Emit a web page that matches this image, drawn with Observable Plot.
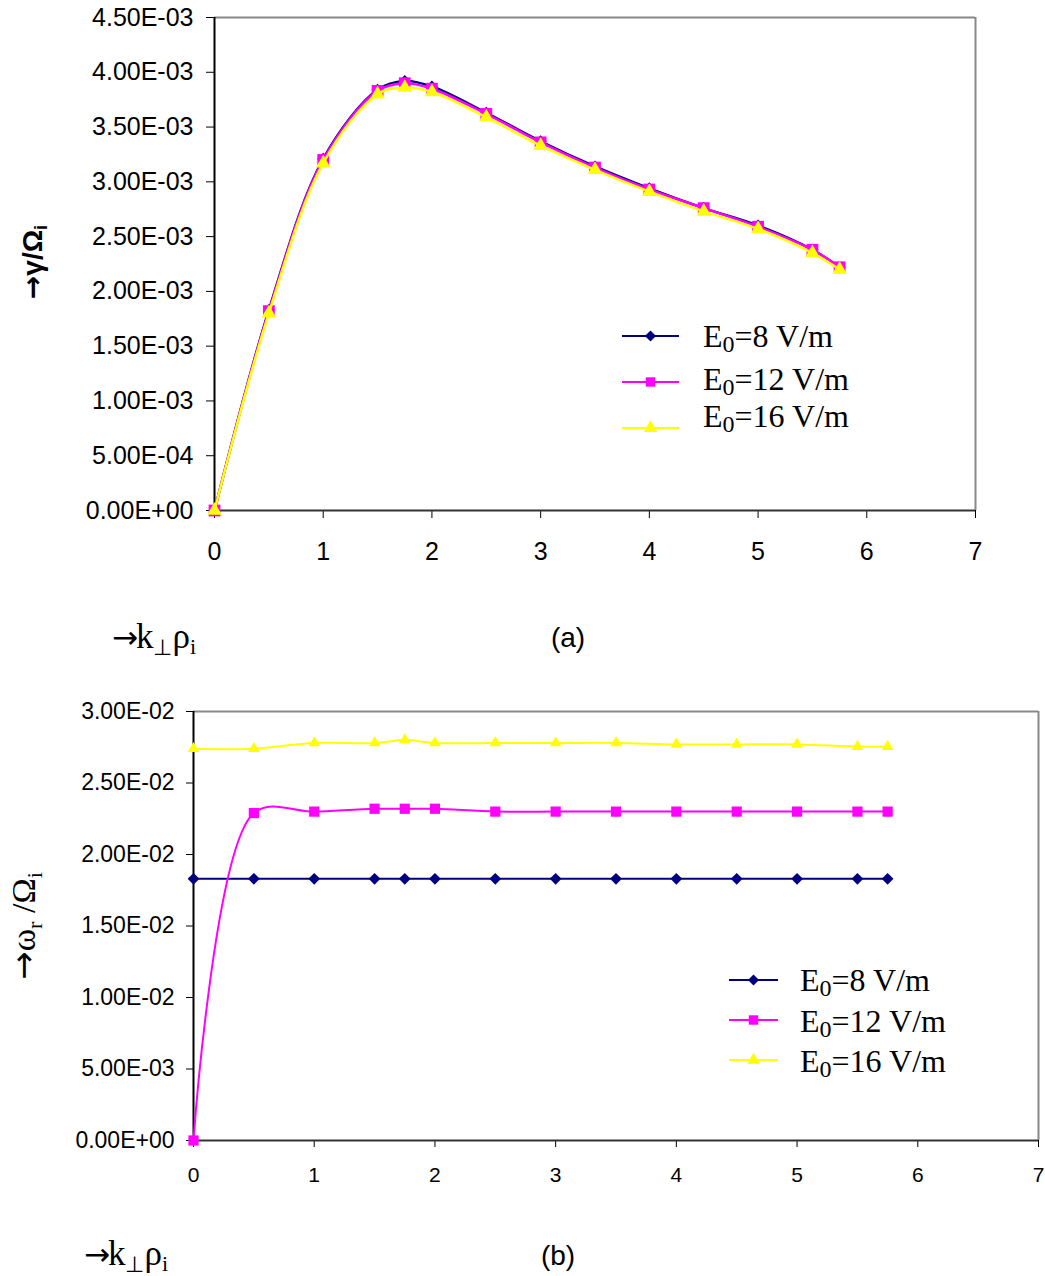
<!DOCTYPE html>
<html><head><meta charset="utf-8">
<script src="https://cdn.jsdelivr.net/npm/d3@7"></script>
<script src="https://cdn.jsdelivr.net/npm/@observablehq/plot@0.6"></script>
<style>
body{margin:0;background:#fff;}
#wrap{position:relative;width:1045px;height:1276px;overflow:hidden;background:#fff;}
#wrap > svg{position:absolute;left:0;}
</style></head><body><div id="wrap"></div>
<script>
// ---------- data ----------
const kRho = [0, 0.5, 1, 1.5, 1.75, 2, 2.5, 3, 3.5, 4, 4.5, 5, 5.5, 5.75];
const seriesNames = ["E0=8 V/m", "E0=12 V/m", "E0=16 V/m"];
const seriesColors = ["#000080", "#FF00FF", "#FFFF00"];
const seriesSymbols = ["diamond2", "square2", "triangle2"];

// (a) growth rate gamma / Omega_i
const gammaE8  = [0, 1.83e-3, 3.21e-3, 3.84e-3, 3.92e-3, 3.87e-3, 3.63e-3, 3.37e-3, 3.14e-3, 2.94e-3, 2.76e-3, 2.60e-3, 2.38e-3, 2.22e-3];
const gammaE12 = [0, 1.82e-3, 3.20e-3, 3.83e-3, 3.90e-3, 3.85e-3, 3.62e-3, 3.36e-3, 3.13e-3, 2.93e-3, 2.76e-3, 2.59e-3, 2.38e-3, 2.22e-3];
const gammaE16 = [0, 1.80e-3, 3.17e-3, 3.80e-3, 3.86e-3, 3.82e-3, 3.59e-3, 3.33e-3, 3.11e-3, 2.91e-3, 2.73e-3, 2.57e-3, 2.35e-3, 2.20e-3];

// (b) real frequency omega_r / Omega_i
const omegaE8  = [0.0183, 0.0183, 0.0183, 0.0183, 0.0183, 0.0183, 0.0183, 0.0183, 0.0183, 0.0183, 0.0183, 0.0183, 0.0183, 0.0183];
const omegaE12 = [0, 0.0229, 0.0230, 0.0232, 0.0232, 0.0232, 0.0230, 0.0230, 0.0230, 0.0230, 0.0230, 0.0230, 0.0230, 0.0230];
const omegaE16 = [0.0274, 0.0274, 0.0278, 0.0278, 0.0280, 0.0278, 0.0278, 0.0278, 0.0278, 0.0277, 0.0277, 0.0277, 0.02755, 0.02755];

const xTicks = [0, 1, 2, 3, 4, 5, 6, 7];
const yTicksA = [0, 0.0005, 0.001, 0.0015, 0.002, 0.0025, 0.003, 0.0035, 0.004, 0.0045];
const yTicksB = [0, 0.005, 0.01, 0.015, 0.02, 0.025, 0.03];

// ---------- helpers ----------
function sci(v) {
  if (Math.abs(v) < 1e-12) return "0.00E+00";
  let [m, e] = v.toExponential(2).split("e");
  const sign = e[0] === "-" ? "-" : "+";
  e = e.replace(/[+-]/, "").padStart(2, "0");
  return m + "E" + sign + e;
}
function rows(values) { return kRho.map((k, i) => ({k, v: values[i]})); }

function makeChart(cfg) {
  const marks = [
    Plot.ruleY([cfg.yMax], {stroke: "#888888", strokeWidth: 2}),
    Plot.ruleX([7], {stroke: "#888888", strokeWidth: 2}),
    Plot.ruleX([0], {stroke: "#000", strokeWidth: 2}),
    Plot.ruleY([0], {stroke: "#333", strokeWidth: 2})
  ];
  cfg.series.forEach((vals, i) => {
    const d = rows(vals);
    marks.push(Plot.line(d, {x: "k", y: "v", stroke: seriesColors[i], strokeWidth: cfg.sw, curve: "catmull-rom"}));
    marks.push(Plot.dot(d, {x: "k", y: "v", symbol: () => seriesSymbols[i], fill: seriesColors[i], stroke: "none", r: cfg.r[i]}));
  });
  const svg = Plot.plot({
    width: 1045, height: cfg.height,
    marginLeft: cfg.ml, marginRight: cfg.mr, marginTop: cfg.mt, marginBottom: cfg.mb,
    style: {fontFamily: "'Liberation Sans', Arial, sans-serif", fontSize: cfg.fs + "px", color: "#000", background: "transparent", overflow: "visible"},
    x: {domain: [0, 7], ticks: xTicks, tickFormat: d => String(d), tickSize: cfg.ts, tickPadding: cfg.xpad, label: null},
    y: {domain: [0, cfg.yMax], ticks: cfg.yTicks, tickFormat: sci, tickSize: cfg.ts, tickPadding: cfg.ypad, label: null},
    symbol: {domain: seriesSymbols, range: seriesSymbols},
    marks
  });
  if (cfg.xfs) {
    d3.select(svg).selectAll('[aria-label^="x-axis"] text').attr("font-size", cfg.xfs);
  }
  return svg;
}

const wrap = document.getElementById("wrap");

const chartA = makeChart({
  height: 580, ml: 214, mr: 70, mt: 17, mb: 70, fs: 25, ts: 8, xpad: 24, ypad: 13,
  yMax: 0.0045, yTicks: yTicksA, sw: 2.5, r: [5.5, 7.5, 7],
  series: [gammaE8, gammaE12, gammaE16]
});
chartA.style.top = "0px";
wrap.appendChild(chartA);

const chartB = makeChart({
  height: 500, ml: 193, mr: 7, mt: 21, mb: 50, fs: 23, xfs: 21, ts: 7, xpad: 20, ypad: 12,
  yMax: 0.03, yTicks: yTicksB, sw: 2, r: [5.3, 6.5, 5.6],
  series: [omegaE8, omegaE12, omegaE16]
});
chartB.style.top = "690px";
wrap.appendChild(chartB);

// ---------- overlay: titles, panel labels, legends ----------
const ov = d3.select(wrap).append("svg")
  .attr("width", 1045).attr("height", 1276)
  .style("top", "0px").style("pointer-events", "none");

const serif = "'Liberation Serif', 'Times New Roman', serif";
const sans = "'Liberation Sans', Arial, sans-serif";
const arrowFont = "'DejaVu Sans', sans-serif";

// y title (a)
const ta = ov.append("text").attr("transform", "translate(42,262) rotate(-90)")
  .attr("text-anchor", "middle").attr("font-family", sans).attr("font-weight", "bold").attr("font-size", 28);
ta.append("tspan").attr("font-family", arrowFont).attr("font-size", 28).text("→");
ta.append("tspan").text("γ/Ω");
ta.append("tspan").attr("font-size", 18).attr("dy", 5).text("i");

// y title (b)
const tb = ov.append("text").attr("transform", "translate(35,926) rotate(-90)")
  .attr("text-anchor", "middle").attr("font-family", serif).attr("font-size", 34);
tb.append("tspan").attr("font-family", arrowFont).attr("font-size", 34).text("→");
tb.append("tspan").text("ω");
tb.append("tspan").attr("font-size", 22).attr("dy", 7).text("r");
tb.append("tspan").attr("dy", -7).text(" /Ω");
tb.append("tspan").attr("font-size", 22).attr("dy", 7).text("i");

// x titles
function xTitle(x, y) {
  const t = ov.append("text").attr("x", x).attr("y", y).attr("font-family", serif).attr("font-size", 35);
  t.append("tspan").attr("font-family", arrowFont).attr("font-size", 31).text("→");
  t.append("tspan").attr("dx", -2).text("k");
  t.append("tspan").attr("font-size", 22).attr("dy", 7).text("⊥");
  t.append("tspan").attr("dy", -7).text("ρ");
  t.append("tspan").attr("font-size", 22).attr("dy", 6).text("i");
}
xTitle(112, 648);
xTitle(84, 1265);

// panel labels
ov.append("text").attr("x", 568).attr("y", 647).attr("text-anchor", "middle")
  .attr("font-family", sans).attr("font-size", 28).text("(a)");
ov.append("text").attr("x", 558).attr("y", 1265).attr("text-anchor", "middle")
  .attr("font-family", sans).attr("font-size", 28).text("(b)");

// legends
const symMap = {diamond2: d3.symbolDiamond2, square2: d3.symbolSquare2, triangle2: d3.symbolTriangle2};
function legend(cfg) {
  seriesNames.forEach((name, i) => {
    const ly = cfg.lineY[i];
    ov.append("line").attr("x1", cfg.x0).attr("x2", cfg.x1).attr("y1", ly).attr("y2", ly)
      .attr("stroke", seriesColors[i]).attr("stroke-width", cfg.sw);
    const size = Math.PI * cfg.r[i] * cfg.r[i];
    ov.append("path").attr("d", d3.symbol(symMap[seriesSymbols[i]], size)())
      .attr("transform", `translate(${(cfg.x0 + cfg.x1) / 2},${ly})`)
      .attr("fill", seriesColors[i]);
    const t = ov.append("text").attr("x", cfg.tx).attr("y", cfg.textY[i])
      .attr("font-family", serif).attr("font-size", cfg.fs);
    const parts = name.split("0=");
    t.append("tspan").text("E");
    t.append("tspan").attr("font-size", cfg.fs * 0.75).attr("dy", 5).text("0");
    t.append("tspan").attr("dy", -5).text("=" + parts[1]);
  });
}
legend({x0: 622, x1: 679, lineY: [336, 382, 428], textY: [347, 390, 427], tx: 703, fs: 32, sw: 2, r: [5, 6, 6.5]});
legend({x0: 729, x1: 778, lineY: [980, 1020, 1060], textY: [991, 1032, 1072], tx: 800, fs: 32, sw: 2, r: [5, 6, 6]});
</script>
</body></html>
